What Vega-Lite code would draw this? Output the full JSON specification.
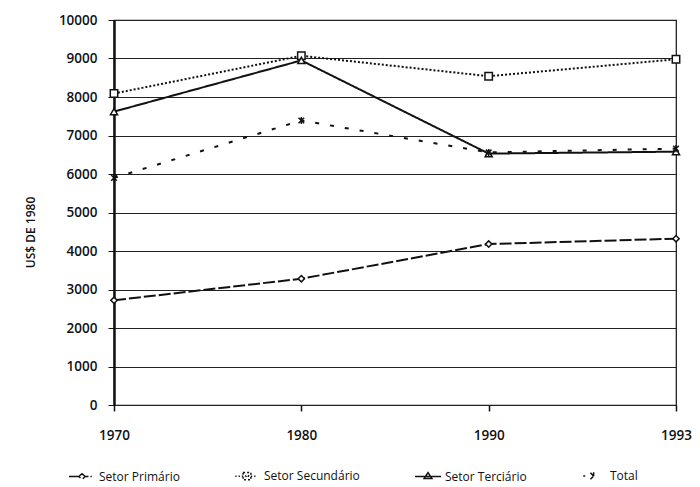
{
  "$schema": "https://vega.github.io/schema/vega-lite/v6.json",
  "width": 562,
  "height": 385,
  "autosize": {"type": "none"},
  "padding": {"left": 114, "top": 20, "right": 24, "bottom": 82},
  "background": "white",
  "config": {
    "view": {"stroke": "#111", "strokeWidth": 1.2},
    "font": "Open Sans",
    "axis": {"labelFont": "Open Sans", "titleFont": "Open Sans", "labelColor": "#111", "titleColor": "#111"}
  },
  "data": {
    "values": [
      {"year": "1970", "series": "Setor Primário", "value": 2720},
      {"year": "1980", "series": "Setor Primário", "value": 3280},
      {"year": "1990", "series": "Setor Primário", "value": 4180},
      {"year": "1993", "series": "Setor Primário", "value": 4320},
      {"year": "1970", "series": "Setor Secundário", "value": 8090},
      {"year": "1980", "series": "Setor Secundário", "value": 9070},
      {"year": "1990", "series": "Setor Secundário", "value": 8540},
      {"year": "1993", "series": "Setor Secundário", "value": 8980},
      {"year": "1970", "series": "Setor Terciário", "value": 7620},
      {"year": "1980", "series": "Setor Terciário", "value": 8950},
      {"year": "1990", "series": "Setor Terciário", "value": 6530},
      {"year": "1993", "series": "Setor Terciário", "value": 6580},
      {"year": "1970", "series": "Total", "value": 5900},
      {"year": "1980", "series": "Total", "value": 7390},
      {"year": "1990", "series": "Total", "value": 6560},
      {"year": "1993", "series": "Total", "value": 6660}
    ]
  },
  "encoding": {
    "x": {
      "field": "year", "type": "ordinal",
      "scale": {"type": "point", "padding": 0},
      "axis": {
        "title": null, "labelAngle": 0, "domain": false, "grid": false,
        "ticks": true, "tickSize": 6, "tickColor": "#111", "tickWidth": 1.5,
        "labelPadding": 17, "labelFontSize": 13.5, "labelFontWeight": 600
      }
    },
    "y": {
      "field": "value", "type": "quantitative",
      "scale": {"domain": [0, 10000], "nice": false},
      "axis": {
        "title": "US$ DE 1980", "titleFontSize": 12, "titleFontWeight": 600,
        "titleAngle": -90, "titleX": -84, "titleY": 212, "titleAlign": "center", "titleBaseline": "middle",
        "values": [0, 1000, 2000, 3000, 4000, 5000, 6000, 7000, 8000, 9000, 10000],
        "format": "d",
        "domain": true, "domainColor": "#111", "domainWidth": 2.5,
        "grid": true, "gridColor": "#222", "gridWidth": 1,
        "ticks": true, "tickSize": 6, "tickColor": "#111",
        "labelPadding": 11, "labelFontSize": 13.5, "labelFontWeight": 600
      }
    }
  },
  "layer": [
    {
      "mark": {"type": "line", "color": "#111", "strokeWidth": 2},
      "encoding": {
        "strokeDash": {
          "field": "series", "type": "nominal",
          "scale": {
            "domain": ["Setor Primário", "Setor Secundário", "Setor Terciário", "Total"],
            "range": [[12, 3], [2, 2], [1, 0], [4, 11]]
          },
          "legend": {
            "title": null,
            "orient": "none",
            "direction": "horizontal",
            "legendX": -46,
            "legendY": 442,
            "columnPadding": 52,
            "symbolSize": 676,
            "symbolStrokeWidth": 1.5,
            "symbolStrokeColor": "#111",
            "symbolFillColor": "white",
            "labelOffset": 3,
            "labelFontSize": 12,
            "labelFont": "Open Sans",
            "labelColor": "#111",
            "encode": {
              "symbols": {
                "update": {
                  "strokeDash": {"value": [1, 0]},
                  "fill": {"value": "white"},
                  "stroke": {"value": "#111"},
                  "shape": {"signal": "datum.value === 'Setor Primário' ? 'M-1,0H-0.25M0.25,0H0.5M0.65,0H0.75M-0.25,0L0,-0.22L0.25,0L0,0.22Z' : datum.value === 'Setor Secundário' ? 'M-0.9,0H-0.8M-0.65,0H-0.55M-0.4,0H-0.3M0.3,0H0.4M0.55,0H0.65M-0.3,-0.28H0.3V0.28H-0.3ZM-0.15,-0.05L0.05,0.1L0.15,-0.1' : datum.value === 'Setor Terciário' ? 'M-1,0H1M0,-0.3L0.3,0.15H-0.3Z' : 'M-0.75,0H-0.6M-0.2,-0.25L0.3,0.25M-0.2,0.25L0.3,-0.25M0.05,-0.3V0.3'"}
                }
              }
            }
          }
        }
      }
    },
    {
      "transform": [{"filter": "datum.series === 'Setor Primário'"}],
      "mark": {"type": "point", "shape": "diamond", "filled": false, "fill": "white", "stroke": "#111", "strokeWidth": 1.5, "size": 40, "opacity": 1}
    },
    {
      "transform": [{"filter": "datum.series === 'Setor Secundário'"}],
      "mark": {"type": "point", "shape": "square", "filled": false, "fill": "white", "stroke": "#111", "strokeWidth": 1.5, "size": 55, "opacity": 1}
    },
    {
      "transform": [{"filter": "datum.series === 'Setor Terciário'"}],
      "mark": {"type": "point", "shape": "triangle-up", "filled": false, "fill": "white", "stroke": "#111", "strokeWidth": 1.5, "size": 50, "opacity": 1}
    },
    {
      "transform": [{"filter": "datum.series === 'Total'"}],
      "mark": {"type": "point", "shape": "M-0.8,-0.8L0.8,0.8M-0.8,0.8L0.8,-0.8M0,-1V1", "filled": false, "stroke": "#111", "strokeWidth": 1.5, "size": 50, "opacity": 1}
    }
  ]
}
